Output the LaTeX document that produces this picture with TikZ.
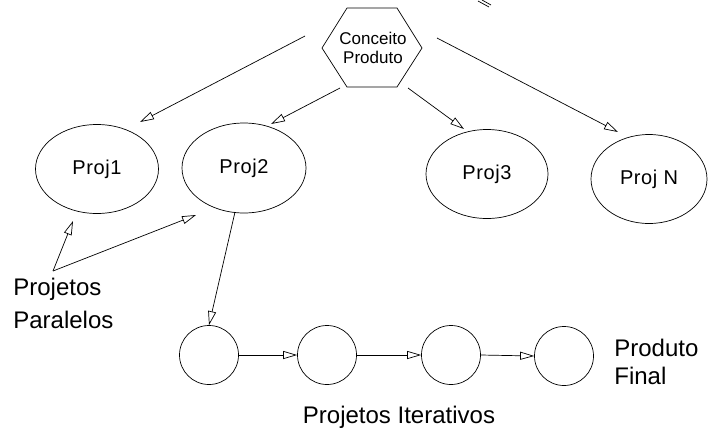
\documentclass[tikz,border=0pt]{standalone}
\usepackage{fontspec}
\setmainfont{Liberation Sans}
\usepackage{tikz}
\usetikzlibrary{arrows.meta,shapes.geometric}

\tikzset{
  proj/.style={draw, ellipse, inner sep=0pt, font=\fontsize{20}{22}\selectfont\addfontfeature{LetterSpace=3}},
  iter/.style={draw, circle, minimum size=59pt, inner sep=0pt},
  rotulo/.style={align=left, anchor=north west, inner sep=0pt, font=\fontsize{24}{33}\selectfont},
  seta/.style={-{Triangle[open,length=14pt,width=8pt]}, line width=0.7pt},
}

\begin{document}
\begin{tikzpicture}[x=1pt, y=-1pt, line width=0.7pt]
    \useasboundingbox (0,0) rectangle (708,432);
    \fill[white] (0,0) rectangle (708,432);
    % conceito do produto (hexagono)
    \node[align=center, inner sep=0pt, font=\fontsize{17}{19}\selectfont] (conc) at (373,48) {Conceito\\Produto};
    \draw (conc) ++(-51,0) -- ++(25,-40) -- ++(50,0) -- ++(25,40) -- ++(-25,39) -- ++(-50,0) -- cycle;
    % projetos
    \node[proj, minimum width=123pt, minimum height=89pt] (p1) at (97,169) {Proj1};
    \node[proj, minimum width=124pt, minimum height=90pt] (p2) at (244,168) {Proj2};
    \node[proj, minimum width=122pt, minimum height=89pt] (p3) at (487,174) {Proj3};
    \node[proj, minimum width=116pt, minimum height=89pt] (pn) at (649,179) {Proj N};
    % iteracoes
    \node[iter] (it1) at (209,355) {};
    \node[iter] (it2) at (327,355) {};
    \node[iter] (it3) at (451,355) {};
    \node[iter] (it4) at (564,356) {};
    % textos
    \node[rotulo] (par) at (13,278) {Projetos\\Paralelos};
    \node[rotulo, font=\fontsize{24}{28}\selectfont] (fin) at (614,339) {Produto\\Final};
    \node[rotulo, anchor=base] (itr) at (399,423) {Projetos Iterativos};
    % pontos de saida
    \coordinate (c1) at (305,36);
    \coordinate (c2) at (340,88);
    \coordinate (c3) at (408,88);
    \coordinate (c4) at (437,38);
    \coordinate (pa) at (53,271);
    \coordinate (p2b) at (235,212);
    \draw[seta] (c1) -- (140,122);
    \draw[seta] (c2) -- (271,124);
    \draw[seta] (c3) -- (464,129);
    \draw[seta] (c4) -- (618,132);
    \draw[seta] (pa) -- (73,221);
    \draw[seta] (pa) -- (196,215);
    \draw[seta] (p2b) -- (it1.north);
    \draw[seta] (it1.east) -- (it2.west);
    \draw[seta] (it2.east) -- (it3.west);
    \draw[seta] (it3.east) -- (it4.west);
    % resto no topo
    \draw (478,1) -- (489,7);
    \draw (482,0) -- (491,5);
\end{tikzpicture}
\end{document}
